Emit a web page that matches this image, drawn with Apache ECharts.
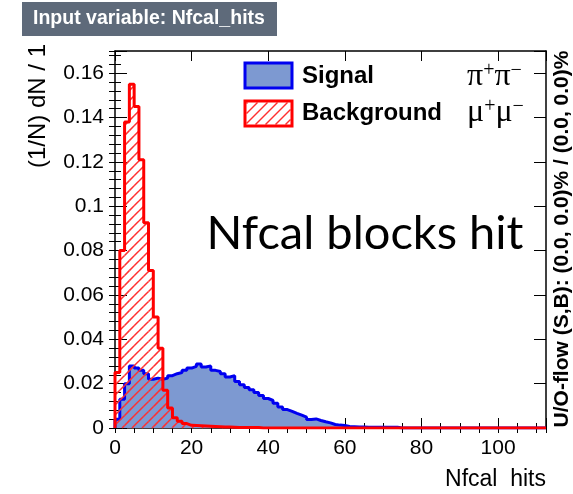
<!DOCTYPE html>
<html>
<head>
<meta charset="utf-8">
<script src="https://cdn.jsdelivr.net/npm/echarts@6/dist/echarts.min.js"></script>
<style>
html,body{margin:0;padding:0;background:#fff;}
#chart{width:573px;height:494px;}
</style>
</head>
<body>
<div id="chart"></div>
<script>
// ---- data ----
const binWidth = 1.25;          // Nfcal hits per bin
const nBins = 90;               // histogram range 0 .. 112.5
const signalValues = [
  0.004, 0.013, 0.020, 0.028, 0.027, 0.026, 0.0245, 0.022, 0.0225, 0.022,
  0.0225, 0.0236, 0.0245, 0.025, 0.026, 0.027, 0.0278, 0.0289, 0.0275, 0.028,
  0.026, 0.0255, 0.0245, 0.023, 0.0236, 0.021, 0.0195, 0.0183, 0.0172, 0.016,
  0.0147, 0.0133, 0.0124, 0.0112, 0.0095, 0.0083, 0.0075, 0.0066, 0.0058, 0.0049,
  0.0038, 0.0041, 0.0034, 0.0028, 0.0023, 0.0016, 0.0013, 0.0011, 0.0007, 0.0006,
  0.0005, 0.0004, 0.0003, 0.0003, 0.0003, 0.0003, 0.0003, 0.0003, 0.0003
];
const backgroundValues = [
  0.025, 0.080, 0.138, 0.155, 0.145, 0.121, 0.0925, 0.071, 0.050, 0.036,
  0.017, 0.009, 0.0046, 0.003, 0.002, 0.0012, 0.0011, 0.001, 0.0009, 0.0008,
  0.0007, 0.0006, 0.0005, 0.0004, 0.0003, 0.0002, 0.0002, 0.0002, 0.0002, 0.0002
];
const xTickLabels = [0, 20, 40, 60, 80, 100];
const yTickLabels = [0, 0.02, 0.04, 0.06, 0.08, 0.1, 0.12, 0.14, 0.16];
const seriesNames = ['Signal', 'Background'];
const xTitle = 'Nfcal  hits';
const yTitle = '(1/N) dN / 1';
const plotTitle = 'Input variable: Nfcal_hits';
const overflowText = 'U/O-flow (S,B): (0.0, 0.0)% / (0.0, 0.0)%';
const annotation = 'Nfcal blocks hit';

// ---- helpers ----
const HATCH_SPACING = 10;
const HATCH_COLOR = '#ff3030';
const HATCH_WIDTH = 1.5;
function histPoints(values) {
  const pts = [[0, 0]];
  let last = 0;
  for (let i = 0; i < nBins; i++) {
    last = values[i] || 0;
    pts.push([i * binWidth, last]);
  }
  pts.push([nBins * binWidth, last]);
  return pts;
}
function hatchBins(values) {
  const out = [];
  values.forEach(function (v, i) { if (v > 0) out.push([i * binWidth, v, (i + 1) * binWidth]); });
  return out;
}
// "///" hatch segments inside a pixel rectangle, on a lattice shared by all rectangles
function hatchSegments(x0, x1, yTop, yBot, z) {
  const segs = [];
  const cMin = Math.ceil((x0 + yTop) / HATCH_SPACING) * HATCH_SPACING;
  for (let c = cMin; c <= x1 + yBot; c += HATCH_SPACING) {
    const xs = Math.max(x0, c - yBot);
    const xe = Math.min(x1, c - yTop);
    if (xe > xs) {
      const el = { type: 'line', shape: { x1: xs, y1: c - xs, x2: xe, y2: c - xe },
        style: { stroke: HATCH_COLOR, lineWidth: HATCH_WIDTH }, silent: true };
      if (z !== undefined) el.z = z;
      segs.push(el);
    }
  }
  return segs;
}
const xMax = nBins * binWidth;
const yMax = 0.17;
const labelFont = 'Liberation Sans, Arial, sans-serif';

function fmtX(v) { return xTickLabels.indexOf(Math.round(v * 1000) / 1000) >= 0 ? String(Math.round(v)) : ''; }
function fmtY(v) {
  const r = Math.round(v * 1e6) / 1e6;
  for (const t of yTickLabels) if (Math.abs(t - r) < 1e-9) return String(t);
  return '';
}

const baseX = { type: 'value', min: 0, max: xMax, splitLine: { show: false } };
const baseY = { type: 'value', min: 0, max: yMax, splitLine: { show: false } };

const legendHatch = hatchSegments(246.5, 290.5, 102.5, 124.5, 11);

const chart = echarts.init(document.getElementById('chart'), null, { renderer: 'canvas' });
chart.setOption({
  animation: false,
  backgroundColor: '#fff',
  grid: { left: 115, right: 27, top: 51, bottom: 66, containLabel: false },
  xAxis: [
    Object.assign({}, baseX, { position: 'bottom', interval: 20,
      axisLine: { show: true, onZero: false, lineStyle: { color: '#000', width: 1.5 } },
      axisTick: { show: true, inside: true, length: 10, lineStyle: { color: '#000', width: 1 } },
      axisLabel: { show: true, formatter: fmtX, color: '#000', fontSize: 21, fontFamily: labelFont, margin: 10, showMinLabel: true, showMaxLabel: true, hideOverlap: false } }),
    Object.assign({}, baseX, { position: 'bottom', interval: 5,
      axisLine: { show: false },
      axisTick: { show: true, inside: true, length: 5, lineStyle: { color: '#000', width: 1 } },
      axisLabel: { show: false } }),
    Object.assign({}, baseX, { position: 'top', interval: 20,
      axisLine: { show: true, onZero: false, lineStyle: { color: '#000', width: 1.5 } },
      axisTick: { show: true, inside: true, length: 10, lineStyle: { color: '#000', width: 1 } },
      axisLabel: { show: false } }),
    Object.assign({}, baseX, { position: 'top', interval: 5,
      axisLine: { show: false },
      axisTick: { show: true, inside: true, length: 5, lineStyle: { color: '#000', width: 1 } },
      axisLabel: { show: false } })
  ],
  yAxis: [
    Object.assign({}, baseY, { position: 'left', interval: 0.02,
      axisLine: { show: true, onZero: false, lineStyle: { color: '#000', width: 1.5 } },
      axisTick: { show: true, inside: true, length: 12, lineStyle: { color: '#000', width: 1 } },
      axisLabel: { show: true, formatter: fmtY, color: '#000', fontSize: 21, fontFamily: labelFont, margin: 11, showMinLabel: true, showMaxLabel: true, hideOverlap: false } }),
    Object.assign({}, baseY, { position: 'left', interval: 0.004,
      axisLine: { show: false },
      axisTick: { show: true, inside: true, length: 6, lineStyle: { color: '#000', width: 1 } },
      axisLabel: { show: false } }),
    Object.assign({}, baseY, { position: 'right', interval: 0.02,
      axisLine: { show: true, onZero: false, lineStyle: { color: '#000', width: 1.5 } },
      axisTick: { show: true, inside: true, length: 12, lineStyle: { color: '#000', width: 1 } },
      axisLabel: { show: false } }),
    Object.assign({}, baseY, { position: 'right', interval: 0.004,
      axisLine: { show: false },
      axisTick: { show: true, inside: true, length: 6, lineStyle: { color: '#000', width: 1 } },
      axisLabel: { show: false } })
  ],
  series: [
    {
      name: seriesNames[0], type: 'line', step: 'end', xAxisIndex: 0, yAxisIndex: 0,
      symbol: 'none', clip: true, z: 2,
      lineStyle: { color: '#0000f0', width: 3 },
      areaStyle: { color: '#7d99d1', opacity: 1 },
      data: histPoints(signalValues)
    },
    {
      name: seriesNames[1] + ' hatch', type: 'custom', xAxisIndex: 0, yAxisIndex: 0, z: 3,
      encode: { x: [0, 2], y: 1 },
      renderItem: function (params, api) {
        const a = api.coord([api.value(0), api.value(1)]);
        const b = api.coord([api.value(2), 0]);
        return { type: 'group', children: hatchSegments(a[0], b[0], a[1], b[1]) };
      },
      data: hatchBins(backgroundValues)
    },
    {
      name: seriesNames[1], type: 'line', step: 'end', xAxisIndex: 0, yAxisIndex: 0,
      symbol: 'none', clip: true, z: 4,
      itemStyle: { color: '#ff0000' },
      lineStyle: { color: '#ff0000', width: 3 },
      data: histPoints(backgroundValues)
    }
  ],
  graphic: [
    { type: 'rect', left: 22, top: 2, shape: { width: 255, height: 34 }, style: { fill: '#5e6a7a' }, z: 10 },
    { type: 'text', x: 33, y: 19, style: { text: plotTitle, fill: '#fff', font: 'bold 19.5px ' + labelFont, textVerticalAlign: 'middle' }, z: 11 },
    { type: 'text', x: 38, y: 44, rotation: Math.PI / 2, style: { text: yTitle, fill: '#000', font: '24px ' + labelFont, textAlign: 'right', textVerticalAlign: 'middle' }, z: 10 },
    { type: 'text', x: 546, y: 480, style: { text: xTitle, fill: '#000', font: '23px ' + labelFont, textAlign: 'right', textVerticalAlign: 'middle' }, z: 10 },
    { type: 'text', x: 562, y: 239, rotation: Math.PI / 2, style: { text: overflowText, fill: '#000', font: 'bold 21px ' + labelFont, textAlign: 'center', textVerticalAlign: 'middle' }, z: 10 },
    { type: 'rect', shape: { x: 245, y: 63, width: 47, height: 25 }, style: { fill: '#7d99d1', stroke: '#0000f0', lineWidth: 3 }, z: 10 },
    { type: 'rect', shape: { x: 245, y: 101, width: 47, height: 25 }, style: { fill: '#fff' }, z: 10 },
    { type: 'group', z: 11, children: legendHatch },
    { type: 'rect', shape: { x: 245, y: 101, width: 47, height: 25 }, style: { fill: 'none', stroke: '#ff0000', lineWidth: 3 }, z: 12 },
    { type: 'text', x: 302, y: 76, style: { text: seriesNames[0], fill: '#000', font: 'bold 24px ' + labelFont, textVerticalAlign: 'middle' }, z: 10 },
    { type: 'text', x: 302, y: 113, style: { text: seriesNames[1], fill: '#000', font: 'bold 24px ' + labelFont, textVerticalAlign: 'middle' }, z: 10 },
    { type: 'text', x: 467, y: 77, style: {
        text: '{m|π}{s|+}{m|π}{s|−}', textVerticalAlign: 'middle',
        rich: { m: { fontFamily: 'Liberation Serif, DejaVu Serif, serif', fontSize: 32, fill: '#000' },
                s: { fontFamily: 'Liberation Serif, DejaVu Serif, serif', fontSize: 20, fill: '#000', verticalAlign: 'top' } } }, z: 10 },
    { type: 'text', x: 467, y: 113, style: {
        text: '{m|μ}{s|+}{m|μ}{s|−}', textVerticalAlign: 'middle',
        rich: { m: { fontFamily: 'Liberation Serif, DejaVu Serif, serif', fontSize: 32, fill: '#000' },
                s: { fontFamily: 'Liberation Serif, DejaVu Serif, serif', fontSize: 20, fill: '#000', verticalAlign: 'top' } } }, z: 10 },
    { type: 'text', x: 365, y: 234, style: { text: annotation, fill: '#000', font: '47px Lato, "Open Sans", sans-serif', textAlign: 'center', textVerticalAlign: 'middle' }, z: 10 }
  ]
});
</script>
</body>
</html>
